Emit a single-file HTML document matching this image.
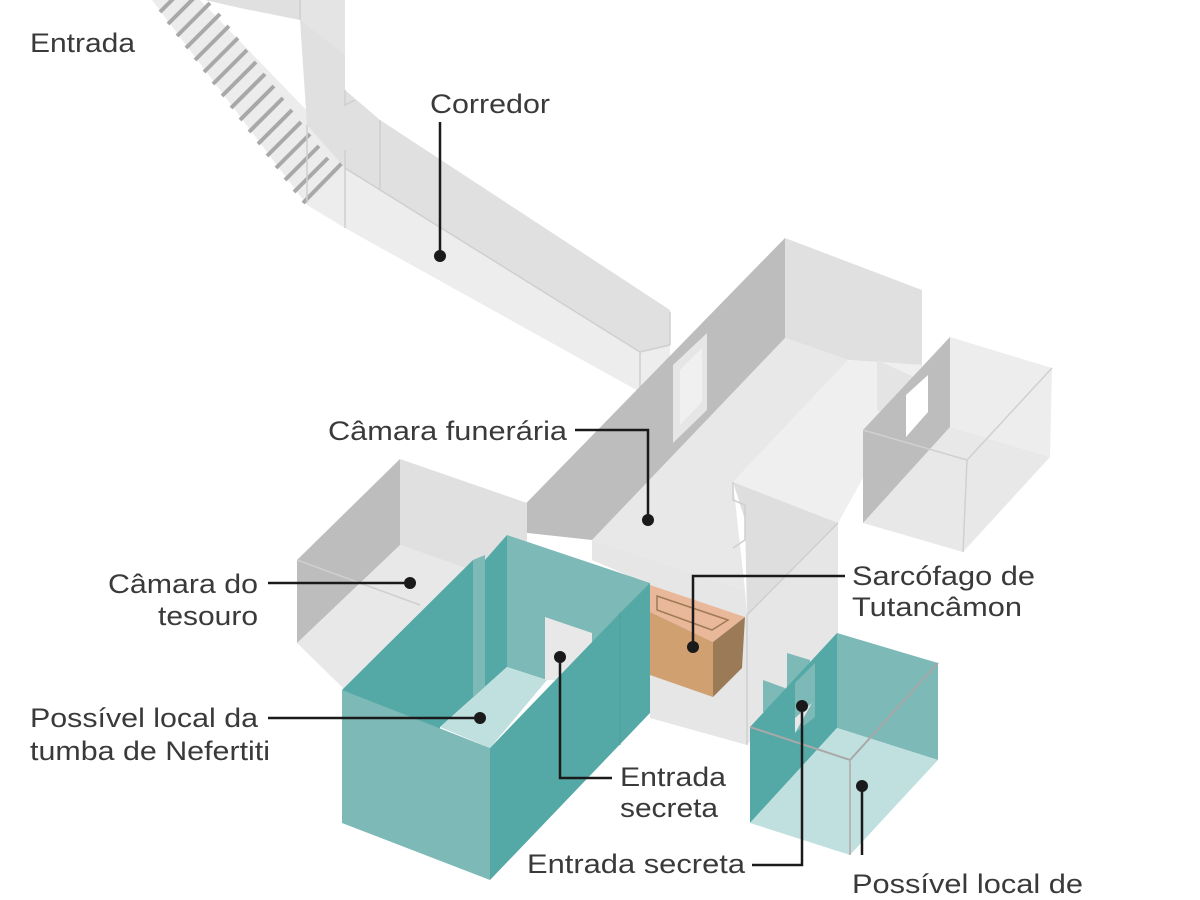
<!DOCTYPE html>
<html><head><meta charset="utf-8"><style>
html,body{margin:0;padding:0;background:#fff;}
svg{display:block;}
text{font-family:"Liberation Sans",sans-serif;font-size:27px;fill:#3a3a3a;}
</style></head><body>
<svg width="1200" height="900" viewBox="0 0 1200 900" xmlns="http://www.w3.org/2000/svg">
<!-- stairs band -->
<polygon points="120,0 200,0 345,150 345,170 307,205 152,0" fill="#ececec"/>
<g stroke="#a8a8a8" stroke-width="4">
<line x1="160" y1="12" x2="178" y2="-6"/>
<line x1="168" y1="24" x2="198" y2="-6"/>
<line x1="177" y1="36" x2="210" y2="3"/>
<line x1="186" y1="48" x2="220" y2="14"/>
<line x1="195" y1="60" x2="229" y2="26"/>
<line x1="204" y1="72" x2="238" y2="38"/>
<line x1="213" y1="84" x2="247" y2="50"/>
<line x1="222" y1="96" x2="256" y2="62"/>
<line x1="231" y1="108" x2="265" y2="74"/>
<line x1="240" y1="120" x2="274" y2="86"/>
<line x1="249" y1="132" x2="283" y2="98"/>
<line x1="258" y1="144" x2="292" y2="110"/>
<line x1="267" y1="156" x2="301" y2="122"/>
<line x1="276" y1="168" x2="310" y2="134"/>
<line x1="285" y1="180" x2="319" y2="146"/>
<line x1="294" y1="192" x2="328" y2="158"/>
<line x1="303" y1="203" x2="345" y2="160"/>
</g>
<!-- corridor upper walls -->
<polygon points="205,0 300,0 300,12 345,47 345,90 380,120 670,310 670,345 640,352 345,168 307,125 300,20 240,8" fill="#e0e0e0"/>
<polygon points="300,0 300,20 345,55 345,0" fill="#e4e4e4"/>
<!-- corridor floor -->
<polygon points="307,205 345,168 640,352 670,345 670,365 640,392 345,228" fill="#ededed"/>
<g stroke="#cfcfcf" stroke-width="1.5" fill="none">
<polyline points="300,20 300,0"/>
<polyline points="307,125 307,203"/>
<polyline points="345,150 345,228"/>
<polyline points="380,120 380,190"/>
<polyline points="345,168 640,352 670,345"/>
<polyline points="640,352 640,392"/>
<polyline points="670,312 670,345"/>
<polyline points="345,90 345,105 355,100"/>
</g>
<!-- burial chamber -->
<polygon points="785,238 922,290 922,365 848,360 785,338" fill="#e0e0e0"/>
<polygon points="848,360 922,365 922,372 838,523 733,482" fill="#efefef"/>
<polygon points="785,338 848,360 733,482 745,590 592,540" fill="#e8e8e8"/>
<polygon points="785,238 785,338 592,540 500,530" fill="#bdbdbd"/>
<polygon points="673,365 707,333 707,410 673,443" fill="#e6e6e6"/>
<polygon points="680,370 702,348 702,402 680,425" fill="#f0f0f0"/>
<!-- south wall block -->
<polygon points="592,540 745,590 747,615 838,523 838,640 747,745 650,718 650,585 592,560" fill="#e6e6e6"/>
<polygon points="733,482 838,523 747,615 745,520" fill="#dedede"/>
<polyline points="733,482 733,500 745,505 745,540 733,548" fill="none" stroke="#cfcfcf" stroke-width="1.5"/>
<polyline points="838,523 747,615 747,745" fill="none" stroke="#cfcfcf" stroke-width="1.5"/>
<!-- annex -->
<polygon points="950,337 1052,368 1050,457 950,427" fill="#ededed"/>
<polygon points="863,523 950,427 1050,457 963,552" fill="#e8e8e8"/>
<polygon points="877,360 927,383 927,430 877,410" fill="#e4e4e4"/>
<polygon points="863,430 950,337 950,427 863,523" fill="#bdbdbd"/>
<polygon points="906,395 928,375 928,412 906,437" fill="#fff"/>
<g stroke="#d0d0d0" stroke-width="1.5" fill="none">
<polyline points="863,430 967,460 1052,368"/>
<polyline points="967,460 963,552"/>
</g>
<!-- treasury -->
<polygon points="400,459 527,503 527,590 400,545" fill="#e0e0e0"/>
<polygon points="297,643 400,545 527,590 540,620 345,690" fill="#e8e8e8"/>
<polygon points="297,560 400,459 400,545 297,643" fill="#bdbdbd"/>
<line x1="297" y1="560" x2="420" y2="605" stroke="#cfcfcf" stroke-width="1.5"/>
<!-- sarcophagus -->
<polygon points="650,585 745,617 713,642 650,612" fill="#e9b89a"/>
<polygon points="657,596 728,620 712,630 657,610" fill="none" stroke="#9e7a57" stroke-width="1.5"/>
<polygon points="650,612 713,642 713,697 650,675" fill="#d1a070"/>
<polygon points="713,642 745,617 742,668 713,697" fill="#9b7a58"/>
<!-- Nefertiti teal box -->
<polygon points="507,535 650,583 650,650 547,680 507,667" fill="#7cb9b7"/>
<polygon points="545,617 592,633 592,680 545,680" fill="#e8e8e8"/>
<polygon points="342,690 473,560 485,560 507,535 507,667 440,727 440,735" fill="#54a9a6"/>
<polygon points="473,560 485,555 485,692 473,700" fill="#7cb9b7"/>
<polygon points="440,727 507,667 547,680 490,748" fill="#c0e0e0"/>
<polygon points="342,690 490,748 490,880 342,823" fill="#7cb9b7"/>
<polygon points="490,748 620,613 650,583 650,713 490,880" fill="#54a9a6"/>
<line x1="620" y1="613" x2="620" y2="745" stroke="#4f9f9c" stroke-width="1"/>
<!-- right teal box -->
<polygon points="763,680 785,688 785,712 763,712" fill="#7cb9b7"/>
<polygon points="787,653 810,660 810,690 787,690" fill="#7cb9b7"/>
<polygon points="837,633 938,663 938,760 837,728" fill="#7cb9b7"/>
<polygon points="750,727 837,633 837,728 750,823" fill="#54a9a6"/>
<polygon points="795,683 815,663 815,717 795,733" fill="#7cb9b7"/>
<polygon points="795,718 812,703 795,733" fill="#e8e8e8"/>
<polygon points="750,823 837,728 938,760 850,855" fill="#c0e0e0"/>
<g stroke="#a8a8a8" stroke-width="2" fill="none">
<polyline points="750,727 850,760 938,663"/>
<line x1="850" y1="760" x2="850" y2="855" stroke="#b5b5b5"/>
</g>
<!-- leaders -->
<g stroke="#1a1a1a" stroke-width="2.5" fill="none">
<polyline points="440,122 440,256"/>
<polyline points="575,430 648,430 648,520"/>
<polyline points="268,583 410,583"/>
<polyline points="268,718 480,718"/>
<polyline points="560,657 560,778 612,778"/>
<polyline points="845,576 693,576 693,647"/>
<polyline points="752,865 802,865 802,706"/>
<polyline points="862,786 862,855"/>
</g>
<g fill="#1a1a1a">
<circle cx="440" cy="256" r="6"/>
<circle cx="648" cy="520" r="6"/>
<circle cx="410" cy="583" r="6"/>
<circle cx="480" cy="718" r="6"/>
<circle cx="560" cy="657" r="6"/>
<circle cx="693" cy="647" r="6"/>
<circle cx="802" cy="706" r="6"/>
<circle cx="862" cy="786" r="6"/>
</g>
<!-- labels -->
<text x="30" y="52" textLength="105" lengthAdjust="spacingAndGlyphs">Entrada</text>
<text x="430" y="113" textLength="120" lengthAdjust="spacingAndGlyphs">Corredor</text>
<text x="328" y="440" textLength="239" lengthAdjust="spacingAndGlyphs">Câmara funerária</text>
<text x="108" y="593" textLength="150" lengthAdjust="spacingAndGlyphs">Câmara do</text>
<text x="158" y="625" textLength="100" lengthAdjust="spacingAndGlyphs">tesouro</text>
<text x="30" y="727" textLength="228" lengthAdjust="spacingAndGlyphs">Possível local da</text>
<text x="30" y="760" textLength="240" lengthAdjust="spacingAndGlyphs">tumba de Nefertiti</text>
<text x="852" y="585" textLength="183" lengthAdjust="spacingAndGlyphs">Sarcófago de</text>
<text x="852" y="616" textLength="170" lengthAdjust="spacingAndGlyphs">Tutancâmon</text>
<text x="620" y="786" textLength="106" lengthAdjust="spacingAndGlyphs">Entrada</text>
<text x="620" y="817" textLength="98" lengthAdjust="spacingAndGlyphs">secreta</text>
<text x="527" y="873" textLength="218" lengthAdjust="spacingAndGlyphs">Entrada secreta</text>
<text x="852" y="893" textLength="231" lengthAdjust="spacingAndGlyphs">Possível local de</text>
</svg>
</body></html>
